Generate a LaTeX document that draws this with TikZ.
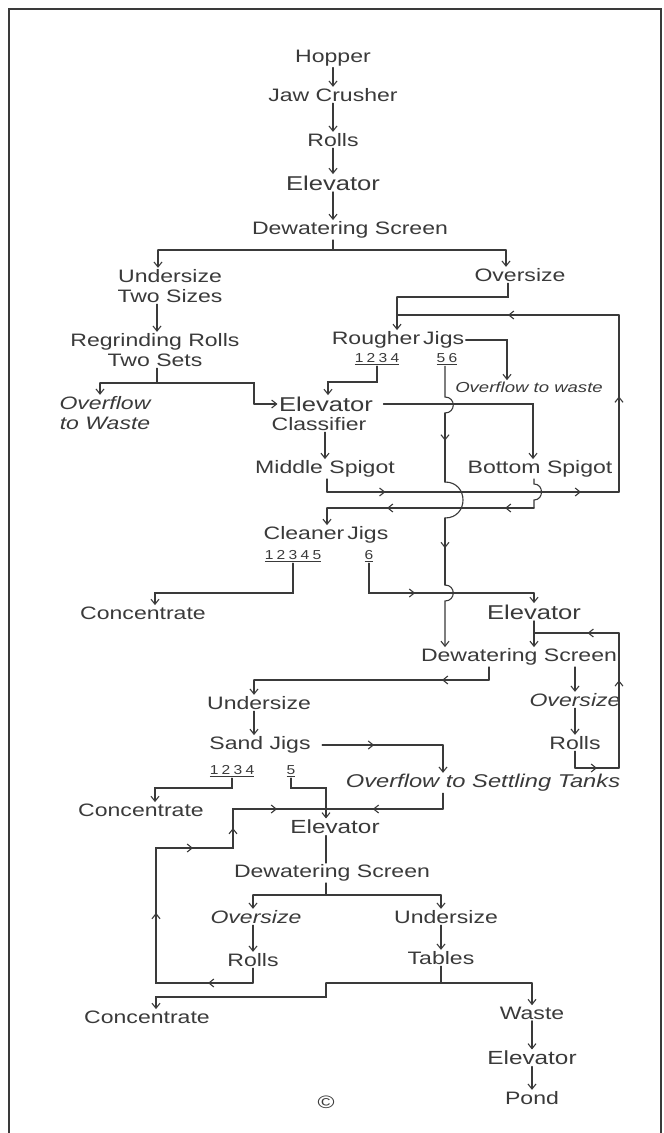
\documentclass[tikz,border=0pt]{standalone}
\usepackage{fontspec}
\setmainfont[FakeStretch=1.28]{Liberation Sans}
\newfontfamily\numfont[FakeStretch=1.2,LetterSpace=25]{Liberation Sans}
\usepackage{tikz}
\usetikzlibrary{arrows.meta,decorations.markings}
\definecolor{ink}{RGB}{58,58,58}

\begin{document}
\begin{tikzpicture}[x=1pt, y=-1pt, >={Straight Barb[length=5pt,width=8pt]},
    line width=1.1pt, line cap=round, color=ink,
    txt/.style={inner sep=1pt, align=center, font=\fontsize{18}{20}\selectfont},
    itx/.style={txt, font=\fontsize{18}{20}\selectfont\itshape},
    big/.style={txt, font=\fontsize{20}{22}\selectfont},
    num/.style={inner sep=1pt, font=\fontsize{13}{14}\numfont},
    arrat/.style={postaction={decorate,decoration={markings,
        mark=at position #1 with {\arrow{>}}}}}]
  \fill[white] (0,0) rectangle (664,1133);
  \useasboundingbox (0,0) rectangle (664,1133);
  \draw[line width=1.3pt, line cap=butt] (9,1133) -- (9,9) -- (661,9) -- (661,1133);

  % main line
  \node[txt] (hop)  at (333,58)  {Hopper};
  \node[txt] (jaw)  at (333,95)  {Jaw Crusher};
  \node[txt] (rolA) at (333,140) {Rolls};
  \node[big] (elvA) at (333,183) {Elevator};
  \node[txt] (dwsA) at (350,230) {Dewatering Screen};
  % first screen
  \node[txt] (uns)  at (170,286) {Undersize\\Two Sizes};
  \node[txt] (ovs)  at (520,275) {Oversize};
  \node[txt] (rgr)  at (155,350) {Regrinding Rolls\\Two Sets};
  \node[itx] (ovw)  at (105,413) {Overflow\\to Waste};
  \node[big] (elB)  at (326,404) {Elevator};
  \node[txt] (cls)  at (319,424) {Classifier};
  \node[txt] (rgj)  at (398,340) {Rougher\,Jigs};
  \node[num] (n12)  at (377,359) {\underline{1234}};
  \node[num] (n56)  at (447,359) {\underline{56}};
  \node[itx, font=\fontsize{14.5}{16}\selectfont\itshape] (ovr) at (529,387) {Overflow to waste};
  \node[txt] (msp)  at (325,469) {Middle Spigot};
  \node[txt] (bsp)  at (540,469) {Bottom Spigot};
  % cleaner jigs
  \node[txt] (cln)  at (326,535) {Cleaner\,Jigs};
  \node[num] (n345) at (293,556) {\underline{12345}};
  \node[num] (n6)   at (369,556) {\underline{6}};
  \node[txt] (con1) at (143,613) {Concentrate};
  \node[big] (elC)  at (534,612) {Elevator};
  \node[txt] (dwsB) at (519,657) {Dewatering Screen};
  \node[txt] (unsB) at (259,703) {Undersize};
  \node[itx] (ovsB) at (575,700) {Oversize};
  \node[txt] (rolB) at (575,743) {Rolls};
  % sand jigs
  \node[txt] (sjg)  at (260,745) {Sand Jigs};
  \node[num] (n34)  at (232,771) {\underline{1234}};
  \node[num] (n5)   at (291,771) {\underline{5}};
  \node[itx, font=\fontsize{18.5}{20}\selectfont\itshape] (ost) at (483,783) {Overflow to Settling Tanks};
  \node[txt] (con2) at (141,810) {Concentrate};
  \node[txt, font=\fontsize{19}{21}\selectfont] (elD) at (335,827) {Elevator};
  \node[txt] (dwsC) at (332,873) {Dewatering Screen};
  \node[itx] (ovsC) at (256,917) {Oversize};
  \node[txt] (unsC) at (446,917) {Undersize};
  \node[txt] (rolC) at (253,960) {Rolls};
  \node[txt] (tbl)  at (441,958) {Tables};
  \node[txt] (con3) at (147,1017) {Concentrate};
  \node[txt] (wst)  at (532,1013) {Waste};
  \node[txt, font=\fontsize{19}{21}\selectfont] (elE) at (532,1058) {Elevator};
  \node[txt] (pnd)  at (532,1098) {Pond};
  \node[txt, font=\fontsize{18}{20}\selectfont] (logo) at (326,1102) {\textcopyright};

  % junctions
  \coordinate (a1) at (333,250);
  \coordinate (a2) at (158,250);
  \coordinate (a3) at (506,250);
  \coordinate (b1) at (157,383);
  \coordinate (b2) at (100,383);
  \coordinate (b3) at (254,383);
  \coordinate (b4) at (254,404);
  \coordinate (d1) at (508,297);
  \coordinate (d2) at (397,297);
  \coordinate (d3) at (619,315);
  \coordinate (d4) at (397,315);
  \coordinate (e1) at (507,340);
  \coordinate (f1) at (328,382);
  \coordinate (g1) at (445,397);
  \coordinate (g2) at (445,413);
  \coordinate (g3) at (445,482);
  \coordinate (g4) at (445,518);
  \coordinate (g5) at (445,585);
  \coordinate (g6) at (445,601);
  \coordinate (h1) at (533,404);
  \coordinate (i1) at (327,492);
  \coordinate (i2) at (619,492);
  \coordinate (j1) at (534,484);
  \coordinate (j2) at (534,500);
  \coordinate (j3) at (534,508);
  \coordinate (j4) at (327,508);
  \coordinate (k1) at (155,593);
  \coordinate (l1) at (534,593);
  \coordinate (m1) at (534,633);
  \coordinate (m2) at (619,633);
  \coordinate (o1) at (489,680);
  \coordinate (o2) at (254,680);
  \coordinate (q1) at (575,768);
  \coordinate (q2) at (619,768);
  \coordinate (r1) at (443,745);
  \coordinate (s1) at (155,788);
  \coordinate (s2) at (326,788);
  \coordinate (t1) at (443,809);
  \coordinate (t2) at (326,809);
  \coordinate (u1) at (253,983);
  \coordinate (u2) at (156,983);
  \coordinate (u3) at (156,848);
  \coordinate (u4) at (233,848);
  \coordinate (u5) at (233,809);
  \coordinate (v0) at (326,895);
  \coordinate (v1) at (253,895);
  \coordinate (v2) at (441,895);
  \coordinate (w0) at (441,983);
  \coordinate (w1) at (326,983);
  \coordinate (w2) at (532,983);
  \coordinate (w3) at (326,997);
  \coordinate (w4) at (156,997);

  % main line
  \draw[->] (hop) -- (jaw);
  \draw[->] (jaw) -- (rolA);
  \draw[->] (rolA) -- (elvA);
  \draw[->] (elvA) -- (elvA |- dwsA.north);
  \draw (dwsA.south -| a1) -- (a1);
  \draw (a2) -- (a3);
  \draw[->] (a2) -- (a2 |- uns.north);
  \draw[->] (a3) -- (a3 |- ovs.north);
  % undersize side
  \draw[->] (uns.south -| b1) -- (b1 |- rgr.north);
  \draw (rgr.south -| b1) -- (b1);
  \draw (b2) -- (b3) -- (b4);
  \draw[->] (b2) -- (b2 |- ovw.north);
  \draw[->] (b4) -- (b4 -| elB.west);
  % oversize side
  \draw (ovs.south -| d1) -- (d1) -- (d2);
  \draw[->] (d2) -- (d2 |- rgj.north);
  \draw[arrat=0.5] (d3) -- (d4);
  \draw[->] (rgj.east) -- (e1) -- (e1 |- ovr.north);
  \draw[->] (n12.south) |- (f1) -- (f1 |- elB.north);
  \draw (n56.south -| g1) -- (g1) .. controls +(11,0) and +(11,0) .. (g2);
  \draw[arrat=0.4] (g2) -- (g3);
  \draw (g3) .. controls +(24,0) and +(24,0) .. (g4);
  \draw[arrat=0.45] (g4) -- (g5);
  \draw[->] (g5) .. controls +(11,0) and +(11,0) .. (g6) -- (g6 |- dwsB.north);
  \draw[->] ([xshift=9pt]elB.east) -- (h1) -- (h1 |- bsp.north);
  \draw[->] (cls.south -| msp) -- (msp.north);
  % spigots
  \draw (msp.south -| i1) -- (i1);
  \draw[arrat=0.2, arrat=0.87] (i1) -- (i2);
  \draw[arrat=0.54] (i2) -- (d3);
  \draw (bsp.south -| j1) -- (j1) .. controls +(10,0) and +(10,0) .. (j2) -- (j3);
  \draw[arrat=0.14, arrat=0.71] (j3) -- (j4);
  \draw[->] (j4) -- (j4 |- cln.north);
  % cleaner jigs
  \draw[->] (n345.south) |- (k1) -- (k1 |- con1.north);
  \draw[arrat=0.39] (n6.south) |- (l1);
  \draw[->] (l1) -- (l1 |- elC.north);
  \draw[->] (elC) -- (elC |- dwsB.north);
  \draw[arrat=0.37] (m2) -- (m1);
  \draw (dwsB.south -| o1) -- (o1);
  \draw[arrat=0.2] (o1) -- (o2);
  \draw[->] (o2) -- (o2 |- unsB.north);
  \draw[->] (dwsB.south -| ovsB) -- (ovsB.north);
  \draw[->] (ovsB) -- (rolB);
  \draw (rolB) -- (q1);
  \draw[arrat=0.5] (q1) -- (q2);
  \draw[arrat=0.65] (q2) -- (m2);
  % sand jigs
  \draw[->] (unsB.south -| o2) -- (o2 |- sjg.north);
  \draw[arrat=0.43] ([xshift=10pt]sjg.east) -- (r1);
  \draw[->] (r1) -- (r1 |- ost.north);
  \draw[->] (n34.south) |- (s1) -- (s1 |- con2.north);
  \draw[->] (n5.south) |- (s2) -- (s2 |- elD.north);
  \draw (ost.south -| t1) -- (t1);
  \draw[arrat=0.6] (t1) -- (t2);
  \draw (rolC) -- (u1);
  \draw[arrat=0.102, arrat=0.379, arrat=0.61, arrat=0.746, arrat=0.889]
    (u1) -- (u2) -- (u3) -- (u4) -- (u5) -- (t2);
  \draw (elD.south -| t2) -- (t2 |- dwsC.north);
  % last screen and tables
  \draw (dwsC.south -| v0) -- (v0);
  \draw (v1) -- (v2);
  \draw[->] (v1) -- (v1 |- ovsC.north);
  \draw[->] (v2) -- (v2 |- unsC.north);
  \draw[->] (ovsC.south -| v1) -- (v1 |- rolC.north);
  \draw[->] (unsC.south -| v2) -- (v2 |- tbl.north);
  \draw (tbl) -- (w0);
  \draw (w1) -- (w2);
  \draw[->] (w2) -- (w2 |- wst.north);
  \draw[->] (w1) -- (w3) -- (w4) -- (w4 |- con3.north);
  \draw[->] (wst) -- (elE);
  \draw[->] (elE) -- (pnd);
\end{tikzpicture}
\end{document}
